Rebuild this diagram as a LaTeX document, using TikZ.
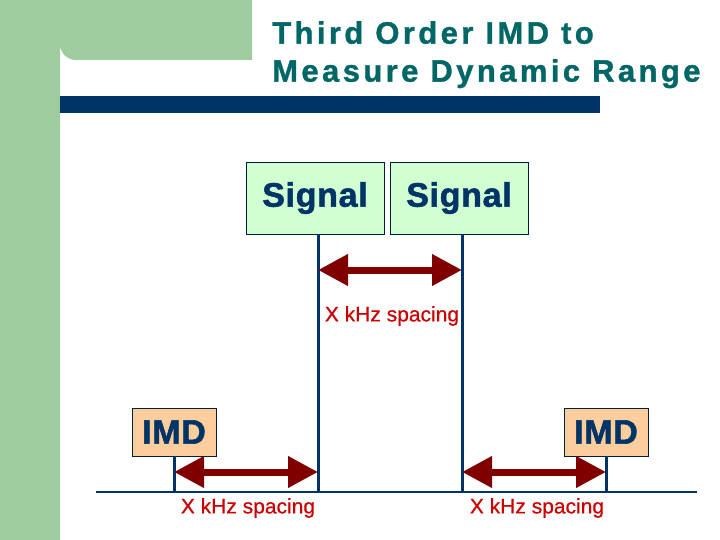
\documentclass[tikz,border=0pt]{standalone}
\usepackage{fontspec}
\setmainfont{Liberation Sans}
\usetikzlibrary{arrows.meta, positioning}
\definecolor{bggreen}{RGB}{158,204,158}
\definecolor{barnavy}{RGB}{0,51,102}
\definecolor{titleteal}{RGB}{0,102,102}
\definecolor{sigfill}{RGB}{210,255,210}
\definecolor{imdfill}{RGB}{252,206,158}
\definecolor{arrowred}{RGB}{128,0,0}
\definecolor{labelred}{RGB}{204,0,0}
\tikzset{
  sigbox/.style={draw=barnavy!60!black, fill=sigfill, minimum width=138pt, minimum height=72pt,
    inner sep=0pt, font=\fontsize{34}{38}\selectfont\bfseries\addfontfeatures{FakeBold=1.5,LetterSpace=2}, text=barnavy},
  imdbox/.style={draw=barnavy!60!black, fill=imdfill, minimum width=84pt, minimum height=48pt,
    inner sep=0pt, font=\fontsize{34}{38}\selectfont\bfseries\addfontfeatures{FakeBold=1.5,LetterSpace=2}, text=barnavy},
  stem/.style={draw=barnavy, line width=3pt},
  spacing/.style={draw=arrowred, line width=7pt, {Triangle[length=30pt,width=30pt]}-{Triangle[length=30pt,width=30pt]}},
  spacelabel/.style={text=labelred, font=\fontsize{21}{24}\selectfont\addfontfeatures{FakeBold=0.6}, inner sep=0pt}
}

\begin{document}
\begin{tikzpicture}[x=1pt, y=-1pt]
    \useasboundingbox (0,0) rectangle (720,540);

    % background
    \fill[bggreen] (0,0) -- (252,0) -- (252,60) -- (76,60)
      arc[start angle=90, end angle=180, radius=16] -- (60,540) -- (0,540) -- cycle;
    \fill[barnavy] (60,96) rectangle (600,113);
    \node[anchor=north west, align=left, inner sep=0pt, text=titleteal,
      font=\fontsize{31}{38}\selectfont\bfseries\addfontfeatures{FakeBold=1.2,LetterSpace=11}] (title) at (272,21)
      {Third Order IMD to\\Measure Dynamic Range};

    % boxes
    \node[sigbox] (sig1) at (315,198) {Signal};
    \node[sigbox] (sig2) at (459,198) {Signal};
    \node[imdbox] (imd1) at (174,432) {IMD};
    \node[imdbox] (imd2) at (606,432) {IMD};

    % stems
    \coordinate (b1) at (318,492);
    \coordinate (b2) at (462,492);
    \coordinate (b3) at (174,492);
    \coordinate (b4) at (606,492);
    \coordinate (t1) at (318,234);
    \coordinate (t2) at (462,234);
    \draw[stem] (t1) -- (b1);
    \draw[stem] (t2) -- (b2);
    \draw[stem] (imd1.south) -- (b3);
    \draw[stem] (imd2.south) -- (b4);

    % axis
    \coordinate (axl) at (96,492);
    \coordinate (axr) at (697,492);
    \draw[barnavy, line width=1.3pt] (axl) -- (axr);

    % arrows
    \coordinate (a1) at (318,270);
    \coordinate (a2) at (462,270);
    \coordinate (a3) at (174,472);
    \coordinate (a4) at (318,472);
    \coordinate (a5) at (462,472);
    \coordinate (a6) at (606,472);
    \draw[spacing] (a1) -- (a2);
    \draw[spacing] (a3) -- (a4);
    \draw[spacing] (a5) -- (a6);

    \node[spacelabel] (lab1) at (392,316) {X kHz spacing};
    \node[spacelabel] (lab2) at (248,508) {X kHz spacing};
    \node[spacelabel] (lab3) at (537,508) {X kHz spacing};
\end{tikzpicture}
\end{document}
